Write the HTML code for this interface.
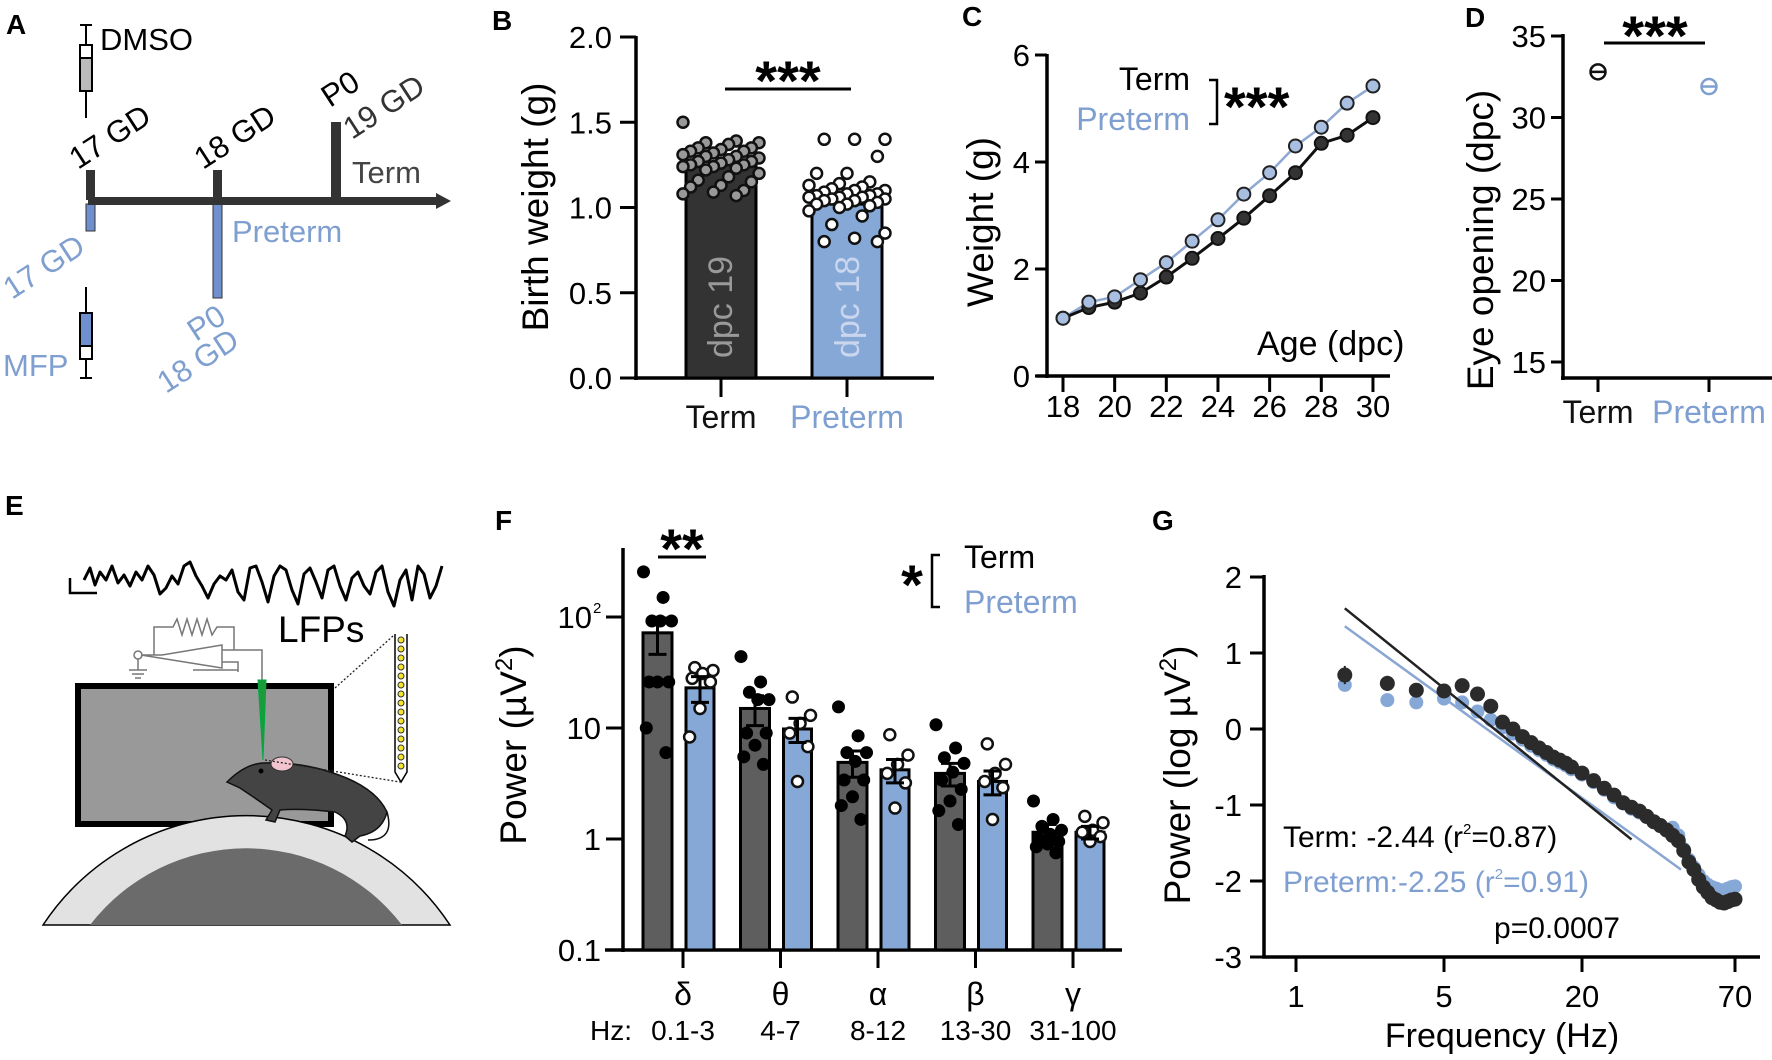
<!DOCTYPE html>
<html><head><meta charset="utf-8"><style>
html,body{margin:0;padding:0;background:#fff}
svg{display:block;font-family:"Liberation Sans",Arial,sans-serif}
</style></head><body>
<svg id="fig" width="1772" height="1060" viewBox="0 0 1772 1060" xmlns="http://www.w3.org/2000/svg">
<rect x="0" y="0" width="1772" height="1060" fill="#fff"/>

<!-- Panel A -->
<g>
<text x="6" y="34" font-size="28" font-weight="bold">A</text>
<g stroke="#000" stroke-width="2">
<line x1="80" y1="25" x2="92" y2="25"/><line x1="86" y1="25" x2="86" y2="45"/>
<rect x="80" y="45" width="12" height="13" fill="#fff"/><rect x="80" y="58" width="12" height="33" fill="#bbb"/>
<line x1="86" y1="91" x2="86" y2="118"/></g>
<text x="100" y="50" font-size="31">DMSO</text>
<text transform="translate(78,170) rotate(-33)" font-size="31">17 GD</text>
<rect x="86" y="170" width="9" height="30" fill="#333"/>
<rect x="86" y="204" width="9" height="27" fill="#6f8fcf" stroke="#333" stroke-width="1"/>
<rect x="213" y="170" width="9" height="30" fill="#333"/>
<rect x="213" y="204" width="9" height="94" fill="#6f8fcf" stroke="#333" stroke-width="1"/>
<rect x="331" y="122" width="10" height="78" fill="#333"/>
<line x1="88" y1="201" x2="438" y2="201" stroke="#333" stroke-width="8"/>
<polygon points="436,193 451,201 436,209" fill="#333"/>
<text transform="translate(203,170) rotate(-33)" font-size="31">18 GD</text>
<text transform="translate(330,108) rotate(-33)" font-size="31">P0</text>
<text transform="translate(352,140) rotate(-33)" font-size="31" fill="#333">19 GD</text>
<text x="352" y="183" font-size="31" fill="#444">Term</text>
<text x="232" y="242" font-size="31" fill="#7f9fd0">Preterm</text>
<text transform="translate(12,300) rotate(-33)" font-size="31" fill="#7f9fd0">17 GD</text>
<text transform="translate(196,342) rotate(-33)" font-size="31" fill="#7f9fd0">P0</text>
<text transform="translate(166,394) rotate(-33)" font-size="31" fill="#7f9fd0">18 GD</text>
<g stroke="#000" stroke-width="2">
<line x1="86" y1="287" x2="86" y2="313"/><rect x="80" y="313" width="12" height="33" fill="#6f8fcf"/>
<rect x="80" y="346" width="12" height="13" fill="#fff"/><line x1="86" y1="359" x2="86" y2="378"/><line x1="80" y1="378" x2="92" y2="378"/></g>
<text x="3" y="376" font-size="31" fill="#7f9fd0">MFP</text>
</g>

<!-- Panel E -->
<g>
<text x="5" y="515" font-size="28" font-weight="bold">E</text>
<path d="M70,578 V593 H97" fill="none" stroke="#000" stroke-width="2.5"/>
<path d="M84,580 L90,568 95,585 100,572 106,580 112,566 118,583 124,575 130,586 136,572 142,580 148,566 154,575 160,594 166,588 172,576 178,584 184,566 190,562 196,576 202,586 208,598 214,584 220,576 226,580 232,570 238,592 244,600 250,568 256,566 262,582 268,602 274,576 280,566 286,570 292,590 298,604 304,574 310,568 316,582 322,598 328,570 334,566 340,586 346,600 352,578 358,572 364,586 370,594 376,572 382,566 388,592 394,606 400,580 406,570 412,600 418,566 424,574 430,598 436,586 442,566"
 fill="none" stroke="#000" stroke-width="3" stroke-linejoin="round"/>
<text x="278" y="642" font-size="37">LFPs</text>
<g fill="none" stroke="#777" stroke-width="1.5">
<path d="M154,655 V627 H173 L177,619 182,635 187,619 192,635 197,619 202,635 207,619 212,635 217,627 H234 V650"/>
<path d="M141,655 H162 L222,645 V668 Z"/><circle cx="138" cy="655" r="4"/>
<path d="M138,659 V670 M129,670 H147 M132,674 H144 M135,678 H141"/>
<path d="M222,650 H262 V680 M222,662 H238 V672 M193,670 H238"/></g>
<rect x="78" y="686" width="253" height="138" fill="#999" stroke="#000" stroke-width="6"/>
<path d="M43,925 A244,244 0 0 1 450,925 Z" fill="#e2e2e2" stroke="#000" stroke-width="1.5"/>
<path d="M90,925 A197,197 0 0 1 402,925 Z" fill="#6b6b6b"/>
<polygon points="258,680 266,680 263,760" fill="#1a9c3a" stroke="#0a4" stroke-width="1"/>
<path d="M227,782 Q245,764 263,763 Q300,762 330,772 Q375,786 387,812 Q382,832 360,836 L352,842 345,836 Q352,820 335,812 Q300,808 280,810 L275,822 266,820 272,810 Q258,800 240,788 Z" fill="#444" stroke="#111" stroke-width="1.5"/>
<path d="M387,812 Q395,840 368,840" fill="none" stroke="#111" stroke-width="1.5"/>
<ellipse cx="282" cy="764" rx="11" ry="7" fill="#f2c4cf" stroke="#333" stroke-width="1"/>
<circle cx="261" cy="771" r="2.5" fill="#000"/>
<path d="M335,688 L393,636 M265,760 L400,782" stroke="#222" stroke-width="1.3" stroke-dasharray="2,2"/>
<path d="M395,634 V772 L401,782 407,772 V634" fill="#fff" stroke="#000" stroke-width="1.5"/>
<g fill="#f5e52a" stroke="#333" stroke-width="1">
<circle cx="401" cy="640" r="3"/><circle cx="401" cy="649" r="3"/><circle cx="401" cy="658" r="3"/><circle cx="401" cy="667" r="3"/><circle cx="401" cy="676" r="3"/><circle cx="401" cy="685" r="3"/><circle cx="401" cy="694" r="3"/><circle cx="401" cy="703" r="3"/><circle cx="401" cy="712" r="3"/><circle cx="401" cy="721" r="3"/><circle cx="401" cy="730" r="3"/><circle cx="401" cy="739" r="3"/><circle cx="401" cy="748" r="3"/><circle cx="401" cy="757" r="3"/><circle cx="401" cy="766" r="3"/></g>
</g>

<g id="charts"></g>
</svg>
<script>
// ---------- Panel B data ----------
const bGroups = ['Term','Preterm'];
const bMeans = [1.25, 1.02];
const bTermDots = [1.5,1.39,1.38,1.38,1.37,1.35,1.35,1.34,1.33,1.33,1.32,1.31,1.30,1.30,1.29,1.28,1.27,1.27,1.26,1.25,1.25,1.24,1.24,1.23,1.22,1.20,1.18,1.16,1.15,1.13,1.12,1.10,1.09,1.08,1.07];
const bPreDots = [1.40,1.40,1.40,1.30,1.20,1.20,1.15,1.14,1.13,1.12,1.11,1.10,1.10,1.09,1.08,1.08,1.07,1.07,1.06,1.06,1.06,1.05,1.05,1.04,1.04,1.03,1.02,1.02,1.01,1.00,0.98,0.95,0.90,0.85,0.82,0.80,0.80];
const bTicks = [0.0,0.5,1.0,1.5,2.0];
const bTickLabels = ['0.0','0.5','1.0','1.5','2.0'];
// ---------- Panel C data ----------
const cAges = [18,19,20,21,22,23,24,25,26,27,28,29,30];
const cTerm = [1.08,1.28,1.38,1.55,1.85,2.2,2.57,2.95,3.37,3.8,4.35,4.5,4.83];
const cPre = [1.08,1.38,1.48,1.8,2.12,2.52,2.92,3.4,3.8,4.3,4.65,5.1,5.42];
const cYTicks = [0,2,4,6];
const cXTicks = [18,20,22,24,26,28,30];
// ---------- Panel D data ----------
const dGroups = ['Term','Preterm'];
const dMeans = [32.8, 31.9];
const dYTicks = [15,20,25,30,35];
// ---------- Panel F data ----------
const fBands = ['δ','θ','α','β','γ'];
const fHz = ['0.1-3','4-7','8-12','13-30','31-100'];
const fTermMean = [72,15,4.9,3.9,1.15];
const fPreMean = [23,9.8,4.2,3.3,1.15];
const fTermSem = [26,4.5,1.3,0.9,0.2];
const fPreSem = [6,2.4,1.0,0.8,0.15];
const fTermDots = [[255,150,92,92,92,26,26,26,10,6],[44,26,21,18,18,9,9,7,5.5,4.7],[15.5,8.5,6,6,5,3.4,3.4,2.4,2,1.5],[10.7,6.6,5.4,4.8,4,3.4,2.8,2.2,1.8,1.35],[2.2,1.5,1.3,1.2,1.1,1.0,0.95,0.9,0.85,0.75]];
const fPreDots = [[35,33,31,28,26,15,8.3],[19,13,11,9,6.8,3.3],[8.7,5.7,4.7,3.9,3.2,1.9],[7.2,4.7,3.9,3.3,2.9,1.5],[1.6,1.4,1.2,1.15,1.05,0.95]];
const fYTicks = [0.1,1,10,100];
// ---------- Panel G data ----------
const gFreq = [1.7,2.7,3.7,5,6,7,8,9,10,11,12,13,14,15,16,17,18,20,22,24,26,28,30,32,34,36,38,40,42,44,46,48,50,52,54,56,58,60,62,64,66,68,70];
const gTerm = [0.71,0.60,0.51,0.50,0.57,0.46,0.30,0.09,0.00,-0.10,-0.18,-0.25,-0.31,-0.37,-0.41,-0.45,-0.50,-0.58,-0.68,-0.78,-0.87,-0.97,-1.03,-1.08,-1.15,-1.22,-1.27,-1.33,-1.40,-1.47,-1.60,-1.75,-1.85,-1.98,-2.08,-2.15,-2.22,-2.25,-2.28,-2.29,-2.27,-2.25,-2.24];
const gPre = [0.58,0.38,0.35,0.40,0.35,0.23,0.12,0.02,-0.06,-0.14,-0.22,-0.28,-0.34,-0.40,-0.44,-0.48,-0.53,-0.60,-0.70,-0.80,-0.90,-0.98,-1.05,-1.10,-1.16,-1.22,-1.28,-1.33,-1.30,-1.40,-1.58,-1.72,-1.82,-1.92,-2.00,-2.05,-2.08,-2.10,-2.12,-2.12,-2.10,-2.08,-2.07];
const gTermSem = [0.12,0.1,0.09,0.07,0.07,0.06,0.06,0.05,0.05,0.05,0.04,0.04,0.04,0.04,0.04,0.04,0.04,0.04,0.04,0.04,0.04,0.04,0.04,0.04,0.04,0.04,0.04,0.04,0.04,0.04,0.04,0.04,0.04,0.04,0.04,0.04,0.04,0.04,0.04,0.04,0.04,0.04,0.04];
const gSlopes = [-2.44,-2.25];
const gIntercepts = [2.15,1.87];
const gFitRange = [[1.7,30],[1.7,45]];
const gYTicks = [-3,-2,-1,0,1,2];
const gXTicks = [1,5,20,70];

const NS = 'http://www.w3.org/2000/svg';
const root = document.getElementById('charts');
const DARK='#333', BLUE='#7f9fd0', BLUEFILL='#86a8d6';
function mk(tag, attrs, parent){
  const e = document.createElementNS(NS, tag);
  for (const k in attrs) e.setAttribute(k, attrs[k]);
  (parent||root).appendChild(e);
  return e;
}
function nm(el, name){
  
  
  return el;
}
function txt(x,y,s,size,opts,parent){
  const e = mk('text', Object.assign({x:x,y:y,'font-size':size}, opts||{}), parent);
  e.textContent = s;
  return e;
}
function line(x1,y1,x2,y2,w,c,parent){ return mk('line',{x1:x1,y1:y1,x2:x2,y2:y2,stroke:c||'#000','stroke-width':w||3},parent); }
function jit(i, spread){ return (((i*7)%11)-5)/5*spread; }

// ================= Panel B =================
(function(){
  const g = nm(mk('g',{}), 'panel-b');
  const yB = v => 378 - v*170.5;
  const xB = [721, 847];
  nm(txt(492,30,'B',28,{'font-weight':'bold'},g),'panel-label-b');
  nm(line(636,36,636,380,3.5,'#000',g),'y-axis-b');
  nm(line(634,378,934,378,3.5,'#000',g),'x-axis-b');
  bTicks.forEach((t,i)=>{
    nm(line(620,yB(t),636,yB(t),3,'#000',g),'y-tick-b');
    nm(txt(612,yB(t)+11,bTickLabels[i],31,{'text-anchor':'end'},g),'y-tick-label-b');
  });
  nm(txt(0,0,'Birth weight (g)',37,{'text-anchor':'middle',transform:'translate(548,207) rotate(-90)'},g),'y-axis-title-b');
  const fills=['#333',BLUEFILL];
  bMeans.forEach((m,i)=>{
    nm(mk('rect',{x:xB[i]-35,y:yB(m),width:70,height:yB(0)-yB(m),fill:fills[i],stroke:'#000','stroke-width':3},g),'bar-'+bGroups[i].toLowerCase());
    nm(line(xB[i],378,xB[i],397,3,'#000',g),'x-tick-b');
    nm(txt(xB[i],428,bGroups[i],32,{'text-anchor':'middle',fill:i?BLUE:'#111'},g),'x-label-'+bGroups[i].toLowerCase());
  });
  nm(txt(0,0,'dpc 19',34,{'text-anchor':'middle',fill:'#999',transform:'translate(732,307) rotate(-90)'},g),'bar-label-term');
  nm(txt(0,0,'dpc 18',34,{'text-anchor':'middle',fill:'#c9d6ee',transform:'translate(859,307) rotate(-90)'},g),'bar-label-preterm');
  bTermDots.forEach((v,i)=>{ nm(mk('circle',{cx:xB[0]+jit(i,38),cy:yB(v),r:5.5,fill:'#999',stroke:'#111','stroke-width':2.5},g),'dot-term'); });
  bPreDots.forEach((v,i)=>{ nm(mk('circle',{cx:xB[1]+jit(i+3,38),cy:yB(v),r:5.5,fill:'#fff',stroke:'#111','stroke-width':2.5},g),'dot-preterm'); });
  nm(line(725,89,851,89,3,'#000',g),'significance-line-b');
  nm(txt(788,100,'***',56,{'text-anchor':'middle','font-weight':'bold'},g),'significance-stars-b');
})();

// ================= Panel C =================
(function(){
  const g = nm(mk('g',{}), 'panel-c');
  const xC = d => 1063 + (d-18)*25.83;
  const yC = v => 376 - v*53.5;
  nm(txt(962,26,'C',28,{'font-weight':'bold'},g),'panel-label-c');
  nm(line(1047,54,1047,378,3.5,'#000',g),'y-axis-c');
  nm(line(1036,376,1390,376,3.5,'#000',g),'x-axis-c');
  cYTicks.forEach(t=>{
    nm(line(1035,yC(t),1047,yC(t),3,'#000',g),'y-tick-c');
    nm(txt(1030,yC(t)+11,String(t),31,{'text-anchor':'end'},g),'y-tick-label-c');
  });
  cXTicks.forEach(t=>{
    nm(line(xC(t),376,xC(t),392,3,'#000',g),'x-tick-c');
    nm(txt(xC(t),417,String(t),31,{'text-anchor':'middle'},g),'x-tick-label-c');
  });
  nm(txt(0,0,'Weight (g)',37,{'text-anchor':'middle',transform:'translate(993,222) rotate(-90)'},g),'y-axis-title-c');
  nm(txt(1257,355,'Age (dpc)',34,{},g),'x-axis-title-c');
  const pPts = cAges.map((a,i)=>xC(a)+','+yC(cPre[i])).join(' ');
  nm(mk('polyline',{points:pPts,fill:'none',stroke:'#8fa9d3','stroke-width':2.5},g),'line-preterm');
  const tPts = cAges.map((a,i)=>xC(a)+','+yC(cTerm[i])).join(' ');
  nm(mk('polyline',{points:tPts,fill:'none',stroke:'#111','stroke-width':3},g),'line-term');
  cAges.forEach((a,i)=>{ nm(mk('circle',{cx:xC(a),cy:yC(cTerm[i]),r:6.5,fill:'#333',stroke:'#111','stroke-width':2},g),'point-term'); });
  cAges.forEach((a,i)=>{ nm(mk('circle',{cx:xC(a),cy:yC(cPre[i]),r:6.5,fill:'#a8bfe2',stroke:'#222','stroke-width':2},g),'point-preterm'); });
  nm(txt(1190,90,'Term',32,{'text-anchor':'end'},g),'legend-term-c');
  nm(txt(1190,130,'Preterm',32,{'text-anchor':'end',fill:BLUE},g),'legend-preterm-c');
  nm(mk('path',{d:'M1209,80 H1217 V124 H1209',fill:'none',stroke:'#000','stroke-width':2.5},g),'legend-bracket-c');
  nm(txt(1224,126,'***',56,{'font-weight':'bold'},g),'significance-stars-c');
})();

// ================= Panel D =================
(function(){
  const g = nm(mk('g',{}), 'panel-d');
  const yD = v => 36 + (35-v)*16.3;
  const xD = [1598, 1709];
  nm(txt(1465,27,'D',28,{'font-weight':'bold'},g),'panel-label-d');
  nm(line(1563,34,1563,380,3.5,'#000',g),'y-axis-d');
  nm(line(1561,378,1772,378,3.5,'#000',g),'x-axis-d');
  dYTicks.forEach(t=>{
    nm(line(1551,yD(t),1563,yD(t),3,'#000',g),'y-tick-d');
    nm(txt(1546,yD(t)+11,String(t),31,{'text-anchor':'end'},g),'y-tick-label-d');
  });
  nm(txt(0,0,'Eye opening (dpc)',37,{'text-anchor':'middle',transform:'translate(1493,240) rotate(-90)'},g),'y-axis-title-d');
  dMeans.forEach((m,i)=>{
    const c = i?BLUE:'#111';
    nm(line(xD[i],378,xD[i],392,3,'#000',g),'x-tick-d');
    nm(txt(xD[i],423,dGroups[i],32,{'text-anchor':'middle',fill:c},g),'x-label-d-'+dGroups[i].toLowerCase());
    nm(mk('circle',{cx:xD[i],cy:yD(m),r:7.5,fill:'#fff',stroke:c,'stroke-width':2.5},g),'point-d-'+dGroups[i].toLowerCase());
    nm(line(xD[i]-7,yD(m),xD[i]+7,yD(m),2.5,c,g),'errorbar-d');
  });
  nm(line(1604,43,1705,43,3,'#000',g),'significance-line-d');
  nm(txt(1655,55,'***',56,{'text-anchor':'middle','font-weight':'bold'},g),'significance-stars-d');
})();

// ================= Panel F =================
(function(){
  const g = nm(mk('g',{}), 'panel-f');
  const yF = v => 839 - Math.log10(v)*111;
  const xF = i => 683 + i*97.5;
  nm(txt(495,530,'F',28,{'font-weight':'bold'},g),'panel-label-f');
  nm(line(623,548,623,952,3.5,'#000',g),'y-axis-f');
  nm(line(605,950,1122,950,3.5,'#000',g),'x-axis-f');
  fYTicks.forEach(t=>{
    nm(line(606,yF(t),623,yF(t),3,'#000',g),'y-tick-f');
    if (t===100){
      nm(txt(592,yF(t)+11,'10',31,{'text-anchor':'end'},g),'y-tick-label-f');
      nm(txt(593,yF(t)-4,'2',15,{},g),'y-tick-label-f-exp');
    } else {
      nm(txt(601,yF(t)+11,String(t),31,{'text-anchor':'end'},g),'y-tick-label-f');
    }
  });
  const yt = nm(mk('text',{'font-size':37,'text-anchor':'middle',transform:'translate(526,745) rotate(-90)'},g),'y-axis-title-f');
  yt.innerHTML = 'Power (µV<tspan font-size="24" dy="-14">2</tspan><tspan dy="14">)</tspan>';
  fBands.forEach((b,i)=>{
    const cx = xF(i);
    nm(line(cx,950,cx,968,3,'#000',g),'x-tick-f');
    nm(txt(cx,1005,b,32,{'text-anchor':'middle'},g),'band-label-f');
    nm(txt(cx,1040,fHz[i],28,{'text-anchor':'middle'},g),'hz-label-f');
    const tx = cx-40, px = cx+3;
    nm(mk('rect',{x:tx,y:yF(fTermMean[i]),width:29,height:950-yF(fTermMean[i]),fill:'#5e5e5e',stroke:'#000','stroke-width':3},g),'bar-term-'+i);
    nm(mk('rect',{x:px,y:yF(fPreMean[i]),width:28,height:950-yF(fPreMean[i]),fill:BLUEFILL,stroke:'#000','stroke-width':3},g),'bar-preterm-'+i);
    fTermDots[i].forEach((v,j)=>{ nm(mk('circle',{cx:tx+14.5+jit(j,14),cy:yF(v),r:6.5,fill:'#000'},g),'dot-term-f'); });
    fPreDots[i].forEach((v,j)=>{ nm(mk('circle',{cx:px+14+jit(j+2,13),cy:yF(v),r:5.5,fill:'#fff',stroke:'#111','stroke-width':2.5},g),'dot-preterm-f'); });
    [[tx+14.5,fTermMean[i],fTermSem[i]],[px+14,fPreMean[i],fPreSem[i]]].forEach(a=>{
      const yt2=yF(a[1]+a[2]), yb=yF(a[1]-a[2]);
      nm(mk('path',{d:`M${a[0]-9},${yt2} H${a[0]+9} M${a[0]},${yt2} V${yb} M${a[0]-9},${yb} H${a[0]+9}`,fill:'none',stroke:'#000','stroke-width':3},g),'errorbar-f');
    });
  });
  nm(txt(632,1040,'Hz:',28,{'text-anchor':'end'},g),'hz-prefix-f');
  nm(line(658,557,706,557,3,'#000',g),'significance-line-f');
  nm(txt(682,568,'**',56,{'text-anchor':'middle','font-weight':'bold'},g),'significance-stars-f');
  nm(txt(912,604,'*',56,{'text-anchor':'middle','font-weight':'bold'},g),'significance-star-legend-f');
  nm(mk('path',{d:'M940,555 H932 V607 H940',fill:'none',stroke:'#000','stroke-width':2.5},g),'legend-bracket-f');
  nm(txt(964,568,'Term',32,{},g),'legend-term-f');
  nm(txt(964,613,'Preterm',32,{fill:BLUE},g),'legend-preterm-f');
})();

// ================= Panel G =================
(function(){
  const g = nm(mk('g',{}), 'panel-g');
  const yG = v => 729 - v*76;
  const tf = [1,5,20,70], tx = [1296,1444,1582,1735];
  const xG = f => {
    let k = 0; if (f>5) k=1; if (f>20) k=2;
    return tx[k] + (Math.log10(f)-Math.log10(tf[k]))/(Math.log10(tf[k+1])-Math.log10(tf[k]))*(tx[k+1]-tx[k]);
  };
  nm(txt(1152,530,'G',28,{'font-weight':'bold'},g),'panel-label-g');
  nm(line(1264,575,1264,958,3.5,'#000',g),'y-axis-g');
  nm(line(1262,957,1760,957,3.5,'#000',g),'x-axis-g');
  gYTicks.forEach(t=>{
    nm(line(1250,yG(t),1264,yG(t),3,'#000',g),'y-tick-g');
    nm(txt(1242,yG(t)+11,String(t),31,{'text-anchor':'end'},g),'y-tick-label-g');
  });
  gXTicks.forEach(t=>{
    nm(line(xG(t),957,xG(t),972,3,'#000',g),'x-tick-g');
    nm(txt(xG(t),1007,String(t),31,{'text-anchor':'middle'},g),'x-tick-label-g');
  });
  const yt = nm(mk('text',{'font-size':37,'text-anchor':'middle',transform:'translate(1190,775) rotate(-90)'},g),'y-axis-title-g');
  yt.innerHTML = 'Power (log µV<tspan font-size="24" dy="-14">2</tspan><tspan dy="14">)</tspan>';
  nm(txt(1502,1047,'Frequency (Hz)',34,{'text-anchor':'middle'},g),'x-axis-title-g');
  gFreq.forEach((f,i)=>{ nm(mk('circle',{cx:xG(f),cy:yG(gPre[i]),r:7,fill:'#86a8d6'},g),'point-preterm-g'); });
  const fitC = ['#222','#8aa6d3'];
  [1,0].forEach(k=>{
    const f0=gFitRange[k][0], f1=gFitRange[k][1];
    const v0=gIntercepts[k]+gSlopes[k]*Math.log10(f0), v1=gIntercepts[k]+gSlopes[k]*Math.log10(f1);
    nm(line(xG(f0),yG(v0),xG(f1),yG(v1),2.5,fitC[k],g),k?'fit-line-preterm':'fit-line-term');
  });
  gFreq.forEach((f,i)=>{
    nm(line(xG(f),yG(gTerm[i]+gTermSem[i]),xG(f),yG(gTerm[i]-gTermSem[i]),2,'#222',g),'errorbar-g');
    nm(mk('circle',{cx:xG(f),cy:yG(gTerm[i]),r:7.5,fill:'#2b2b2b'},g),'point-term-g');
  });
  const t1 = nm(mk('text',{x:1283,y:847,'font-size':30},g),'annotation-term-g');
  t1.innerHTML = 'Term: -2.44 (r<tspan font-size="15" dy="-13">2</tspan><tspan dy="13">=0.87)</tspan>';
  const t2 = nm(mk('text',{x:1283,y:892,'font-size':30,fill:BLUE},g),'annotation-preterm-g');
  t2.innerHTML = 'Preterm:-2.25 (r<tspan font-size="15" dy="-13">2</tspan><tspan dy="13">=0.91)</tspan>';
  nm(txt(1620,938,'p=0.0007',30,{'text-anchor':'end'},g),'annotation-p-value-g');
})();
</script>
</body></html>
